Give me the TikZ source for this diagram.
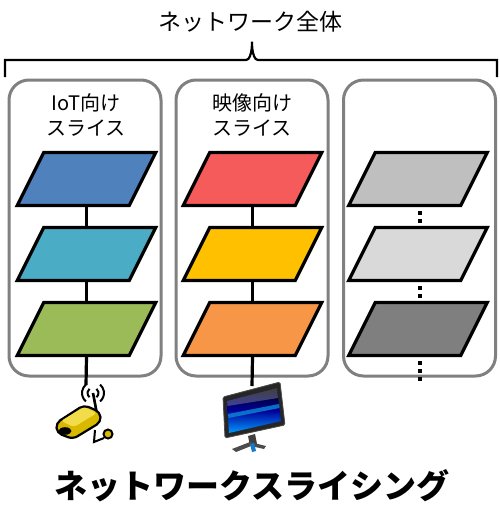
\documentclass[tikz,border=0pt]{standalone}
\usepackage{fontspec}
\setmainfont{Noto Sans CJK JP}
\usepackage{tikz}
\usetikzlibrary{positioning}
\definecolor{sliceblue}{HTML}{4F81BD}
\definecolor{slicecyan}{HTML}{4BACC6}
\definecolor{slicegreen}{HTML}{9BBB59}
\definecolor{slicered}{HTML}{F65B5B}
\definecolor{sliceyellow}{HTML}{FFC000}
\definecolor{sliceorange}{HTML}{F79646}
\definecolor{slicegrayA}{HTML}{BFBFBF}
\definecolor{slicegrayB}{HTML}{D9D9D9}
\definecolor{slicegrayC}{HTML}{7F7F7F}
\definecolor{camyellow}{HTML}{D9B800}
\definecolor{camlight}{HTML}{F2DC4A}
\tikzstyle{panel} = [draw=gray,line width=3pt,rounded corners=20pt,minimum width=152pt,minimum height=296pt]
\tikzstyle{slice} = [draw,line width=3.2pt,minimum width=112pt,minimum height=53pt,xslant=0.5]
\tikzstyle{link} = [line width=3.2pt]
\tikzstyle{dotlink} = [line width=3.4pt,dash pattern=on 3.4pt off 4.6pt]
\tikzstyle{caption} = [align=center,font=\fontsize{20}{25}\selectfont]

\begin{document}
\begin{tikzpicture}[x=1pt,y=-1pt]
	\useasboundingbox (0,0) rectangle (500,512);
	%Panels
	\node[panel] (iotpanel) at (85,228) {};
	\node[panel] (videopanel) at (252,228) {};
	\node[panel] (otherpanel) at (419.5,228) {};
	\node[caption] (iotlabel) at (86,115) {IoT向け\\スライス};
	\node[caption] (videolabel) at (252,115) {映像向け\\スライス};
	
	%Slices
	\node[slice,fill=sliceblue] (iot1) at (86.5,179) {};
	\node[slice,fill=slicecyan] (iot2) at (86.5,254) {};
	\node[slice,fill=slicegreen] (iot3) at (86.5,329) {};
	\node[slice,fill=slicered] (video1) at (252.5,179) {};
	\node[slice,fill=sliceyellow] (video2) at (252.5,254) {};
	\node[slice,fill=sliceorange] (video3) at (252.5,329) {};
	\node[slice,fill=slicegrayA] (other1) at (418,179) {};
	\node[slice,fill=slicegrayB] (other2) at (418,254) {};
	\node[slice,fill=slicegrayC] (other3) at (418,329) {};
	\coordinate (camera) at (86,385);
	\coordinate (monitor) at (252,386);
	\coordinate (otherend) at (420,385);
	
	%Lines
	\draw[link] (iot1.south -| iot1.center) -- (iot2.north -| iot2.center);
	\draw[link] (iot2.south -| iot2.center) -- (iot3.north -| iot3.center);
	\draw[link] (iot3.south -| iot3.center) -- (camera);
	\draw[link] (video1.south -| video1.center) -- (video2.north -| video2.center);
	\draw[link] (video2.south -| video2.center) -- (video3.north -| video3.center);
	\draw[link] (video3.south -| video3.center) -- (monitor);
	\draw[dotlink] ([yshift=-4pt]other1.south -| otherend) -- (other2.north -| otherend);
	\draw[dotlink] ([yshift=-4pt]other2.south -| otherend) -- (other3.north -| otherend);
	\draw[dotlink] ([yshift=-4pt]other3.south -| otherend) -- (otherend);
	
	%Brace and titles
	\node[font=\fontsize{23}{23}\selectfont] (whole) at (250,22) {ネットワーク全体};
	\draw[line width=2.2pt] (5,77) |- (246,60) to[out=0,in=90] (252,43) to[out=90,in=180] (258,60) -| (497,77);
	\node[font=\fontsize{33}{33}\selectfont\bfseries] (slicing) at (252,486) {ネットワークスライシング};
	
	%Camera
	\draw[line width=2pt] (93,393) ++(130:5.5) arc[start angle=130,end angle=230,radius=5.5];
	\draw[line width=2pt] (93,393) ++(50:5.5) arc[start angle=50,end angle=-50,radius=5.5];
	\draw[line width=2pt] (93,393) ++(130:11) arc[start angle=130,end angle=230,radius=11];
	\draw[line width=2pt] (93,393) ++(50:11) arc[start angle=50,end angle=-50,radius=11];
	\draw[line width=2.6pt] (93,393) -- (97,414);
	\draw[line width=2pt] (95,430) -- (94,442) -- (104,438);
	\draw[line width=2pt,fill=camyellow] (108,434) circle (4.5);
	\filldraw[fill=camyellow,line width=2.2pt,rounded corners=5pt] (56,423) -- (84,405) -- (100,412) -- (101,422) -- (73,439) -- (57,433) -- cycle;
	\fill[camlight,rounded corners=3pt] (61,421) -- (84,407) -- (97,413) -- (74,427) -- cycle;
	\fill[black] (65,431) ellipse [x radius=6.5,y radius=3.8];
	
	%Monitor
	\filldraw[fill=black!85,draw=gray!60!black,line width=0.8pt,rounded corners=1.5pt] (223,397) -- (280,382) -- (285,425) -- (225,438) -- cycle;
	\shade[top color=black,bottom color=cyan!60!blue,middle color=blue!60!black] (227,401) -- (277,388) -- (281,421) -- (229,433) -- cycle;
	\fill[cyan!70!blue,opacity=0.8] (228,414) -- (279,404) -- (279.5,408) -- (228.5,418) -- cycle;
	\fill[white,opacity=0.25] (227,401) -- (277,388) -- (278,398) -- (227.5,406) -- cycle;
	\fill[gray!50!black] (248,436) -- (255,434) -- (257,444) -- (250,446) -- cycle;
	\fill[gray!60!black] (232,449) -- (250,442) -- (266,446) -- (264,449) -- (251,446) -- (236,452) -- cycle;
	\fill[cyan!60!blue] (250,444) -- (254,443) -- (256,451) -- (252,452) -- cycle;
\end{tikzpicture}
\end{document}
